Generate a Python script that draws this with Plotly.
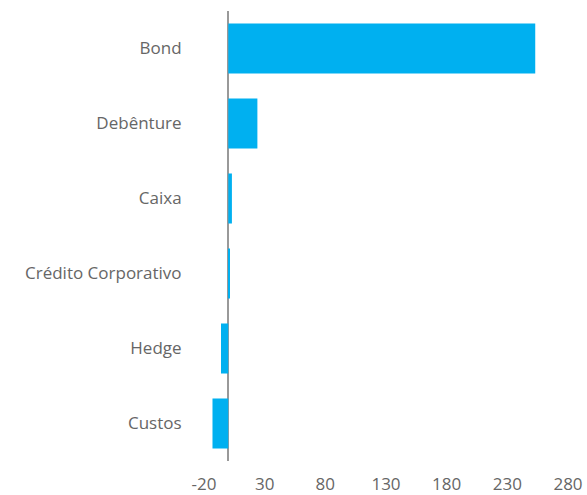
import plotly.graph_objects as go

categories = ["Bond", "Debênture", "Caixa", "Crédito Corporativo", "Hedge", "Custos"]
values = [253, 24, 3, 1, -6, -13]
tick_vals = [-20, 30, 80, 130, 180, 230, 280]

fig = go.Figure(go.Bar(
    x=values, y=categories, orientation="h",
    marker=dict(color="#00B0F0", line=dict(width=0)),
    width=0.667,
))

fig.update_layout(
    width=587, height=495,
    margin=dict(l=204, r=19, t=11, b=34),
    paper_bgcolor="white", plot_bgcolor="white",
    font=dict(family="Open Sans", size=17, color="#666666"),
    showlegend=False,
    bargap=0.333,
)
fig.update_xaxes(
    range=[-20, 280], tickvals=tick_vals, ticktext=[str(v) for v in tick_vals],
    showgrid=False, zeroline=True, zerolinecolor="#999999", zerolinewidth=1.5,
    showline=False, ticks="outside", ticklen=8, tickcolor="rgba(0,0,0,0)",
    automargin=False,
)
fig.update_yaxes(
    autorange="reversed", showgrid=False, showline=False,
    ticks="outside", ticklen=18, tickcolor="rgba(0,0,0,0)",
    automargin=False,
)

fig.write_html("out.html")
